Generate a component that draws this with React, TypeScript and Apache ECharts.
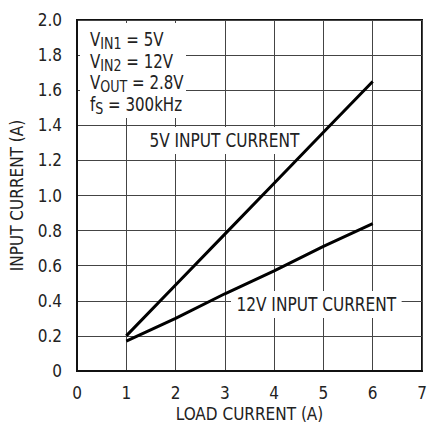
import React, { useEffect, useRef } from "react";
import * as echarts from "echarts";

const loadCurrent = [1, 2, 3, 4, 5, 6];
const input5V = [0.2, 0.49, 0.78, 1.07, 1.36, 1.65];
const input12V = [0.17, 0.3, 0.44, 0.57, 0.71, 0.84];
const xTicks = [0, 1, 2, 3, 4, 5, 6, 7];
const yTicks = ["0", "0.2", "0.4", "0.6", "0.8", "1.0", "1.2", "1.4", "1.6", "1.8", "2.0"];
const conditions = [
  ["V", "IN1", " = 5V"],
  ["V", "IN2", " = 12V"],
  ["V", "OUT", " = 2.8V"],
  ["f", "S", " = 300kHz"],
];

const FAMILY = "'DejaVu Sans Condensed', 'Liberation Sans', sans-serif";
const MAIN_SIZE = 19;
const SUB_SIZE = 16;

function measure(text: string, size: number): number {
  const ctx = document.createElement("canvas").getContext("2d");
  if (!ctx) return text.length * size * 0.55;
  ctx.font = `${size}px ${FAMILY}`;
  return ctx.measureText(text).width;
}

export default function App() {
  const ref = useRef<HTMLDivElement>(null);
  useEffect(() => {
    document.body.style.margin = "0";
    const chart = echarts.init(ref.current!, null, { renderer: "svg" });

    const condChildren: any[] = [];
    conditions.forEach((parts, i) => {
      const y = i * 21.5;
      let x = 0;
      const w0 = measure(parts[0], MAIN_SIZE);
      const w1 = measure(parts[1], SUB_SIZE);
      condChildren.push({
        type: "text",
        x,
        y,
        z: 1,
        style: { text: parts[0], fontSize: MAIN_SIZE, fontFamily: FAMILY, fill: "#222", verticalAlign: "top" },
      });
      x += w0;
      condChildren.push({
        type: "text",
        x,
        y: y + 6,
        z: 1,
        style: { text: parts[1], fontSize: SUB_SIZE, fontFamily: FAMILY, fill: "#222", verticalAlign: "top" },
      });
      x += w1;
      condChildren.push({
        type: "text",
        x,
        y,
        z: 1,
        style: { text: parts[2], fontSize: MAIN_SIZE, fontFamily: FAMILY, fill: "#222", verticalAlign: "top" },
      });
    });

    chart.setOption({
      animation: false,
      backgroundColor: "#fff",
      grid: { left: 70, right: 13, top: 20, bottom: 60, show: true, borderColor: "#111", borderWidth: 2, backgroundColor: "transparent" },
      xAxis: {
        type: "value",
        min: 0,
        max: 7,
        interval: 1,
        name: "LOAD CURRENT (A)",
        nameLocation: "middle",
        nameGap: 33,
        nameTextStyle: { fontSize: 17, fontFamily: FAMILY, color: "#222" },
        axisLine: { show: true, lineStyle: { color: "#111", width: 2 } },
        axisTick: { show: false },
        axisLabel: { fontSize: 17, fontFamily: FAMILY, color: "#222", margin: 13, formatter: (v: number) => String(xTicks[Math.round(v)]) },
        splitLine: { show: true, lineStyle: { color: "#444", width: 1 } },
      },
      yAxis: {
        type: "value",
        min: 0,
        max: 2,
        interval: 0.2,
        name: "INPUT CURRENT (A)",
        nameLocation: "middle",
        nameGap: 52,
        nameTextStyle: { fontSize: 17, fontFamily: FAMILY, color: "#222" },
        axisLine: { show: true, lineStyle: { color: "#111", width: 2 } },
        axisTick: { show: false },
        axisLabel: { fontSize: 17, fontFamily: FAMILY, color: "#222", margin: 15, formatter: (v: number) => yTicks[Math.round(v * 5)] },
        splitLine: { show: true, lineStyle: { color: "#444", width: 1 } },
      },
      series: [
        {
          type: "line",
          data: loadCurrent.map((x, i) => [x, input5V[i]]),
          showSymbol: false,
          lineStyle: { color: "#000", width: 3 },
          z: 3,
        },
        {
          type: "line",
          data: loadCurrent.map((x, i) => [x, input12V[i]]),
          showSymbol: false,
          lineStyle: { color: "#000", width: 3 },
          z: 3,
        },
      ],
      graphic: [
        {
          type: "rect",
          shape: { x: 80, y: 23, width: 106, height: 95 },
          style: { fill: "#fff" },
          z: 1,
        },
        {
          type: "group",
          x: 90,
          y: 30,
          scaleX: 0.88,
          z: 1,
          children: condChildren,
        },
        {
          type: "text",
          x: 144,
          y: 127,
          scaleX: 0.9,
          z: 1,
          style: {
            text: "5V INPUT CURRENT",
            fontSize: 19,
            fontFamily: FAMILY,
            fill: "#222",
            backgroundColor: "#fff",
            padding: [4, 6, 4, 6],
          },
        },
        {
          type: "text",
          x: 231,
          y: 291,
          scaleX: 0.9,
          z: 1,
          style: {
            text: "12V INPUT CURRENT",
            fontSize: 19,
            fontFamily: FAMILY,
            fill: "#222",
            backgroundColor: "#fff",
            padding: [4, 6, 4, 6],
          },
        },
      ],
    });
    return () => chart.dispose();
  }, []);
  return <div ref={ref} style={{ width: 435, height: 431 }} />;
}
